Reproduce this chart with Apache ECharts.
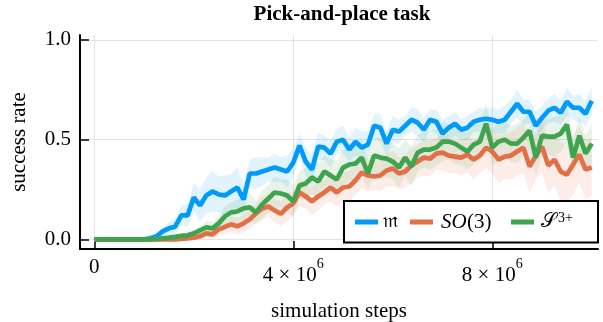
<!DOCTYPE html>
<html><head><meta charset="utf-8">
<script src="https://cdn.jsdelivr.net/npm/echarts@6/dist/echarts.min.js"></script>
<style>html,body{margin:0;padding:0;background:#fff}#c{width:603px;height:322px}</style>
</head><body><div id="c"></div>
<script>
// ---- data ----
const stepSize = 125000; // simulation steps between evaluations
const xTicks = [0, 4000000, 8000000];
const yTicks = [0, 0.5, 1.0];
const seriesNames = ['m', 'SO3', 'S3'];

const meanM = [0,0,0,0,0,0,0,0,0,
  0.005,0.015,0.04,0.055,0.063,0.12,0.12,0.21,0.17,0.22,0.24,
  0.225,0.22,0.24,0.26,0.20,0.33,0.33,0.34,0.35,0.36,
  0.35,0.34,0.385,0.47,0.39,0.35,0.465,0.46,0.43,0.49,
  0.50,0.45,0.49,0.46,0.475,0.57,0.56,0.48,0.55,0.54,
  0.57,0.60,0.585,0.55,0.60,0.59,0.53,0.56,0.58,0.55,
  0.56,0.59,0.60,0.605,0.60,0.59,0.60,0.64,0.68,0.64,
  0.64,0.57,0.61,0.645,0.66,0.635,0.69,0.66,0.66,0.63,
  0.695];
const stdM = [0,0,0,0,0,0,0,0,0,
  0.005,0.01,0.02,0.03,0.04,0.05,0.06,0.07,0.08,0.09,0.10,
  0.09,0.10,0.09,0.10,0.08,0.07,0.08,0.07,0.06,0.07,
  0.06,0.08,0.07,0.06,0.07,0.08,0.07,0.06,0.07,0.06,
  0.07,0.06,0.07,0.08,0.07,0.06,0.07,0.06,0.07,0.06,
  0.05,0.06,0.07,0.06,0.05,0.06,0.07,0.06,0.06,0.05,
  0.06,0.05,0.06,0.05,0.06,0.06,0.07,0.06,0.07,0.06,
  0.06,0.07,0.06,0.06,0.07,0.06,0.07,0.06,0.07,0.06,
  0.07];

const meanSO3 = [0,0,0,0,0,0,0,0,0,0,0,0,0,
  0.0,0.002,0.004,0.008,0.015,0.03,0.025,
  0.05,0.062,0.075,0.065,0.08,0.10,0.13,0.155,0.165,0.145,
  0.128,0.16,0.18,0.235,0.215,0.19,0.215,0.235,0.26,0.235,
  0.26,0.265,0.295,0.335,0.32,0.315,0.32,0.345,0.355,0.33,
  0.34,0.37,0.39,0.41,0.405,0.43,0.435,0.42,0.415,0.41,
  0.425,0.40,0.42,0.46,0.44,0.40,0.415,0.42,0.44,0.46,
  0.365,0.42,0.465,0.37,0.40,0.34,0.325,0.375,0.425,0.35,
  0.36];
const stdSO3 = [0,0,0,0,0,0,0,0,0,0,0,0,0,
  0.002,0.004,0.006,0.01,0.015,0.02,0.025,
  0.03,0.035,0.04,0.04,0.045,0.05,0.05,0.06,0.05,0.06,
  0.06,0.07,0.06,0.07,0.06,0.07,0.07,0.06,0.07,0.07,
  0.07,0.08,0.07,0.08,0.08,0.07,0.08,0.08,0.09,0.08,
  0.08,0.09,0.08,0.09,0.09,0.08,0.09,0.09,0.08,0.09,
  0.09,0.10,0.09,0.10,0.11,0.12,0.11,0.12,0.12,0.13,
  0.13,0.12,0.13,0.14,0.13,0.15,0.14,0.15,0.14,0.15,
  0.14];

const meanS3 = [0,0,0,0,0,0,0,0,0,0,
  0.002,0.005,0.008,0.012,0.017,0.02,0.03,0.045,0.06,0.055,
  0.08,0.115,0.135,0.14,0.155,0.16,0.135,0.175,0.205,0.235,
  0.23,0.22,0.19,0.27,0.28,0.31,0.29,0.34,0.32,0.30,
  0.36,0.375,0.38,0.41,0.33,0.42,0.41,0.405,0.39,0.36,
  0.41,0.365,0.435,0.45,0.45,0.46,0.49,0.49,0.48,0.46,
  0.44,0.475,0.49,0.58,0.46,0.49,0.50,0.48,0.48,0.51,
  0.545,0.41,0.52,0.515,0.515,0.53,0.575,0.41,0.52,0.43,
  0.48];
const stdS3 = [0,0,0,0,0,0,0,0,0,0,0,
  0.003,0.005,0.007,0.01,0.012,0.015,0.02,0.03,0.03,
  0.04,0.05,0.05,0.06,0.06,0.07,0.06,0.07,0.07,0.08,
  0.07,0.08,0.08,0.07,0.08,0.08,0.09,0.08,0.08,0.09,
  0.09,0.08,0.09,0.09,0.08,0.09,0.10,0.09,0.09,0.10,
  0.09,0.10,0.09,0.09,0.10,0.09,0.10,0.09,0.10,0.09,
  0.09,0.10,0.09,0.10,0.09,0.10,0.09,0.09,0.10,0.09,
  0.10,0.09,0.10,0.09,0.10,0.09,0.10,0.09,0.10,0.09,
  0.10];

// ---- styling ----
const colors = {m:'#009AFA', SO3:'#E36F47', S3:'#3EA44E'};
const serif = '"Liberation Serif","DejaVu Serif",serif';
const mathFont = '"DejaVu Serif","DejaVu Sans","Noto Sans",serif';
const steps = meanM.map((_, i) => i * stepSize);

function bandSeries(key, mean, std) {
  const data = mean.map((m, i) => [steps[i], Math.max(0, m - std[i]), m + std[i]]);
  const fill = echarts.color.modifyAlpha(colors[key], 0.12);
  return {
    type:'custom', name:key + '_band', silent:true, z:1, clip:true,
    encode:{x:0, y:[1, 2]}, data,
    renderItem(params, api) {
      if (params.dataIndex !== 0) return null;
      const top = data.map(d => api.coord([d[0], d[2]]));
      const bot = data.map(d => api.coord([d[0], d[1]])).reverse();
      return {type:'polygon', shape:{points: top.concat(bot)}, style:{fill, stroke:'none'}};
    }
  };
}
function meanSeries(key, mean) {
  return {type:'line', name:key, z:3, data: mean.map((m, i) => [steps[i], m]),
    symbol:'none', itemStyle:{color:colors[key]}, lineStyle:{color:colors[key], width:4.7}};
}

const legendText = {
  m: '{fr|\u{1D52A}}',
  SO3: '{it|SO}{rm|(3)}',
  S3: '{cal|\u{1D4AE}}{sup|3+}'
};

const chart = echarts.init(document.getElementById('c'), null, {renderer:'canvas'});
chart.setOption({
  animation:false,
  backgroundColor:'#fff',
  title:{text:'Pick-and-place task', left:342, top:4, padding:0, textAlign:'center',
    textStyle:{fontFamily:serif, fontWeight:'bold', fontSize:21, color:'#000'}},
  grid:{left:80, right:5, top:35, bottom:73, containLabel:false, outerBoundsMode:'none'},
  legend:{
    data: seriesNames, left:344, top:201, orient:'horizontal',
    backgroundColor:'#fff', borderColor:'#000', borderWidth:2, borderRadius:0,
    padding:[10, 19, 10, 11], itemGap:8, itemWidth:23, itemHeight:5, icon:'rect',
    formatter: n => legendText[n],
    textStyle:{fontFamily:serif, fontSize:21, color:'#000',
      rich:{
        fr:{fontFamily:mathFont, fontSize:20, lineHeight:22, width:19},
        it:{fontFamily:serif, fontStyle:'italic', fontSize:21, lineHeight:22, width:26, padding:[0,0,0,3]},
        rm:{fontFamily:serif, fontSize:21, lineHeight:22, width:36},
        cal:{fontFamily:mathFont, fontSize:20, lineHeight:22, width:17, padding:[0,0,0,2]},
        sup:{fontFamily:serif, fontSize:14, lineHeight:14, verticalAlign:'top', width:21}
      }}
  },
  xAxis:{
    type:'value', min:-287400, max:10125000,
    name:'simulation steps', nameLocation:'middle', nameGap:52,
    nameTextStyle:{fontFamily:serif, fontSize:21, color:'#000'},
    axisLine:{onZero:false, lineStyle:{color:'#000', width:2}},
    axisTick:{inside:true, length:8, customValues:xTicks, lineStyle:{color:'#000', width:1.5}},
    splitLine:{show:true, lineStyle:{color:'#e4e4e4', width:1}},
    axisLabel:{customValues:xTicks, margin:8, verticalAlign:'top', color:'#000',
      fontFamily:serif, fontSize:21,
      formatter: v => v === 0 ? '{z|0}' : '{n|' + (v / 1e6) + ' \u00d7 10}{s|6}',
      rich:{
        z:{fontFamily:serif, fontSize:21, lineHeight:21, color:'#000'},
        n:{fontFamily:serif, fontSize:21, lineHeight:37, color:'#000'},
        s:{fontFamily:serif, fontSize:14, lineHeight:14, verticalAlign:'top', color:'#000'}
      }}
  },
  yAxis:{
    type:'value', min:-0.0487, max:1.025,
    name:'success rate', nameLocation:'middle', nameGap:50,
    nameTextStyle:{fontFamily:serif, fontSize:21, color:'#000'},
    axisLine:{show:true, onZero:false, lineStyle:{color:'#000', width:2}},
    axisTick:{show:true, inside:true, length:9, customValues:yTicks, lineStyle:{color:'#000', width:1.5}},
    splitLine:{show:true, lineStyle:{color:'#e4e4e4', width:1}},
    axisLabel:{customValues:yTicks, margin:9, color:'#000', fontFamily:serif, fontSize:21,
      formatter: v => v.toFixed(1)}
  },
  series:[
    bandSeries('m', meanM, stdM),
    bandSeries('SO3', meanSO3, stdSO3),
    bandSeries('S3', meanS3, stdS3),
    meanSeries('m', meanM),
    meanSeries('SO3', meanSO3),
    meanSeries('S3', meanS3)
  ]
});
</script></body></html>
